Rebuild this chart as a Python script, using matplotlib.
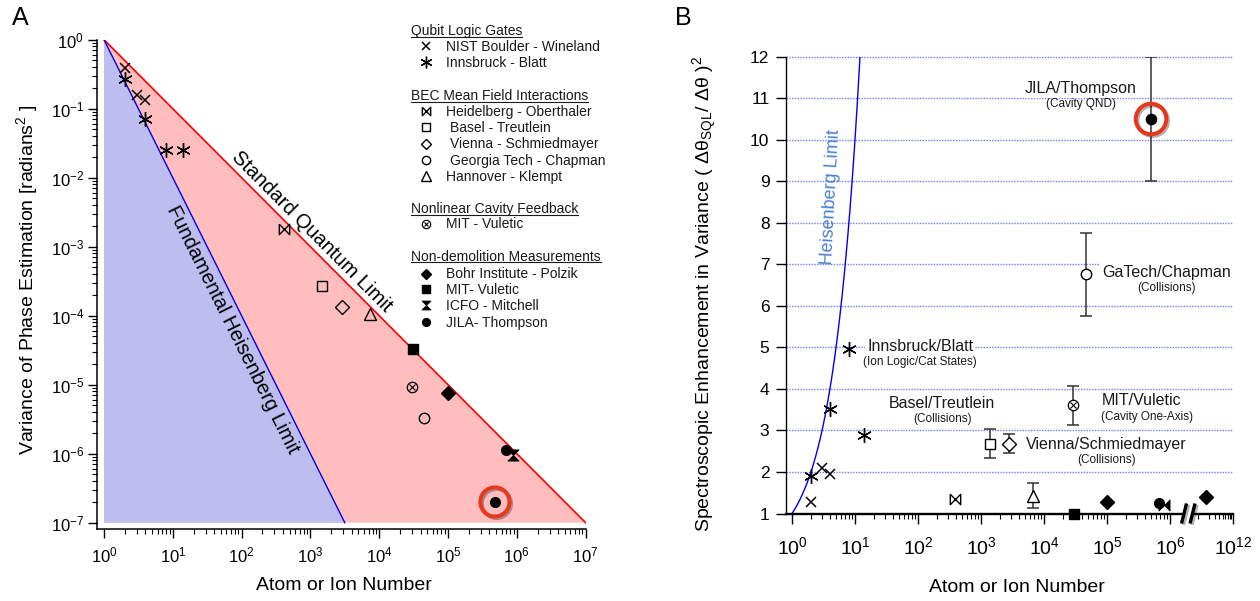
import numpy as np
import matplotlib
matplotlib.use('Agg')
import matplotlib.pyplot as plt
import matplotlib.patheffects as pe
from matplotlib.path import Path
from matplotlib.ticker import FixedLocator, FixedFormatter, NullFormatter

plt.rcParams['font.family'] = ['Liberation Sans', 'DejaVu Sans']
plt.rcParams['mathtext.fontset'] = 'custom'
plt.rcParams['mathtext.rm'] = 'Liberation Sans'
plt.rcParams['mathtext.it'] = 'Liberation Sans:italic'
plt.rcParams['mathtext.bf'] = 'Liberation Sans:bold'

W, H = 1260, 601

# ---- panel A: variance of phase estimation [rad^2] vs atom/ion number
nist_N, nist_var = [2, 3, 4], [0.39, 0.158, 0.134]
innsbruck_N, innsbruck_var = [2, 4, 8, 14], [0.267, 0.071, 0.025, 0.025]
heidelberg_N, heidelberg_var = [413], [1.79e-3]
basel_N, basel_var = [1460], [2.69e-4]
vienna_N, vienna_var = [2850], [1.35e-4]
gatech_N, gatech_var = [4.5e4], [3.3e-6]
hannover_N, hannover_var = [7350], [1.05e-4]
mitfb_N, mitfb_var = [3.0e4], [9.2e-6]
bohr_N, bohr_var = [1e5], [7.7e-6]
mitqnd_N, mitqnd_var = [3.1e4], [3.3e-5]
icfo_N, icfo_var = [8.7e5], [9.5e-7]
jila_N, jila_var = [6.9e5], [1.12e-6]
jilanew_N, jilanew_var = [4.8e5], [2.0e-7]

limit_N = np.array([1.0, 1e7])
var_floor = 1e-7
xticks_A_exp = list(range(0, 8))
yticks_A_exp = list(range(-7, 1))

# ---- panel B: spectroscopic enhancement (dtheta_SQL/dtheta)^2
innsbruckB_N, innsbruckB = [2, 4, 8, 14], [1.9, 3.52, 4.95, 2.88]
nistB_N, nistB = [2, 3, 4], [1.28, 2.1, 1.95]
heidelbergB_N, heidelbergB = [390], [1.36]
baselB_N, baselB, baselB_err = [1390], [2.68], [0.35]
viennaB_N, viennaB, viennaB_err = [2750], [2.68], [0.23]
gatechB_N, gatechB, gatechB_err = [4.6e4], [6.76], [1.0]
hannoverB_N, hannoverB, hannoverB_err = [6800], [1.43], [0.3]
mitfbB_N, mitfbB, mitfbB_err = [2.9e4], [3.61], [0.47]
mitqndB_N, mitqndB = [3.0e4], [1.0]
bohrB_N, bohrB = [1e5, 1.7e11], [1.28, 1.40]
jilaB_N, jilaB = [6.8e5], [1.26]
icfoB_N, icfoB = [8.1e5], [1.21]
jilanewB_N, jilanewB, jilanewB_err = [5e5], [10.5], [1.5]

xticks_B_exp = [0, 1, 2, 3, 4, 5, 6, 12]
yticks_B = list(range(1, 13))

# broken log axis for panel B: plain log10 up to BRK_LO, squeezed gap,
# then the 1e11..1e12 decade compressed by FAR_SCALE
BRK_LO, BRK_HI, FAR_LO, FAR_SCALE = 6.27, 6.45, 11.0, 0.55


def fwd(x):
    x = np.asarray(x, dtype=float)
    with np.errstate(divide='ignore', invalid='ignore'):
        L = np.log10(x)
    gap = BRK_LO + (L - BRK_LO) * (BRK_HI - BRK_LO) / (FAR_LO - BRK_LO)
    far = BRK_HI + (L - FAR_LO) * FAR_SCALE
    return np.where(L <= BRK_LO, L, np.where(L >= FAR_LO, far, gap))


def inv(d):
    d = np.asarray(d, dtype=float)
    gap = BRK_LO + (d - BRK_LO) * (FAR_LO - BRK_LO) / (BRK_HI - BRK_LO)
    far = FAR_LO + (d - BRK_HI) / FAR_SCALE
    L = np.where(d <= BRK_LO, d, np.where(d >= BRK_HI, far, gap))
    return 10.0 ** L


def pow10_labels(exps):
    return [r'$\mathdefault{10^{%d}}$' % e for e in exps]


def decade_minors(exps):
    return [k * 10.0 ** e for e in exps for k in range(2, 10)]


BOWTIE = Path([(-1, 1), (1, -1), (1, 1), (-1, -1), (-1, 1)])
HOURGLASS = Path([(-1, 1), (1, 1), (0, 0), (-1, 1), (-1, -1), (1, -1), (0, 0), (-1, -1)],
                 [Path.MOVETO, Path.LINETO, Path.LINETO, Path.CLOSEPOLY] * 2)
HOURGLASS_SIDE = Path([(1, -1), (1, 1), (0, 0), (1, -1), (-1, -1), (-1, 1), (0, 0), (-1, -1)],
                      [Path.MOVETO, Path.LINETO, Path.LINETO, Path.CLOSEPOLY] * 2)

MARK = {
    'nist': dict(marker='x', ms=7.5, mew=1.1),
    'innsbruck': dict(marker=(6, 2, 0), ms=10.5, mew=1.0),
    'heidelberg': dict(marker=BOWTIE, ms=7.5, mew=1.0),
    'basel': dict(marker='s', ms=7.3, mew=1.0),
    'vienna': dict(marker='D', ms=7.0, mew=1.0),
    'gatech': dict(marker='o', ms=7.5, mew=1.0),
    'hannover': dict(marker='^', ms=8.5, mew=1.0),
    'mitfb': dict(marker='o', ms=7.5, mew=0.9),
    'bohr': dict(marker='D', ms=7.0, mew=1.0),
    'mitqnd': dict(marker='s', ms=7.5, mew=1.0),
    'icfo': dict(marker=HOURGLASS, ms=8.0, mew=0.6),
    'jila': dict(marker='o', ms=7.0, mew=1.0),
}
FILLED = {'bohr', 'mitqnd', 'icfo', 'jila'}


def put(ax, x, y, key, scale=1.0, face='none', marker=None, **kw):
    st = MARK[key]
    mfc = 'k' if key in FILLED else face
    ax.plot(x, y, ls='none', marker=marker if marker is not None else st['marker'],
            ms=st['ms'] * scale, mew=st['mew'], mec='k', mfc=mfc, zorder=4, **kw)
    if key == 'mitfb':
        ax.plot(x, y, ls='none', marker='x', ms=st['ms'] * scale * 0.5, mew=0.8,
                mec='k', zorder=5, **kw)


def px_rect(x0, y0, x1, y1):
    return [x0 / W, 1 - y1 / H, (x1 - x0) / W, (y1 - y0) / H]


ring = dict(marker='o', ls='none', mfc='none', mec='#e8371d', zorder=6,
            path_effects=[pe.SimpleLineShadow(offset=(1.2, -1.2), alpha=0.3), pe.Normal()])

fig = plt.figure(figsize=(W / 100, H / 100), dpi=100)

# ================= panel A =================
ax = fig.add_axes(px_rect(96.7, 39.7, 585.6, 529.3))
ax.set_xscale('log')
ax.set_yscale('log')
ax.set_xlim(10 ** -0.106, 1e7)
ax.set_ylim(10 ** -7.096, 1)

sql_var = 1 / limit_N
n_heis = 1 / np.sqrt(var_floor)
ax.fill([limit_N[0], limit_N[1], limit_N[0]], [sql_var[0], sql_var[1], var_floor],
        color='#ffbdbd', lw=0, zorder=1)
ax.fill([limit_N[0], n_heis, limit_N[0]], [1 / limit_N[0] ** 2, var_floor, var_floor],
        color='#bdbdf0', lw=0, zorder=1.1)
ax.plot(limit_N, sql_var, color='#ff0000', lw=1.2, zorder=2)
ax.plot([limit_N[0], n_heis], [1 / limit_N[0] ** 2, 1 / n_heis ** 2], color='#0000ee', lw=1.0, zorder=2)

put(ax, nist_N, nist_var, 'nist')
put(ax, innsbruck_N, innsbruck_var, 'innsbruck')
put(ax, heidelberg_N, heidelberg_var, 'heidelberg')
put(ax, basel_N, basel_var, 'basel')
put(ax, vienna_N, vienna_var, 'vienna')
put(ax, gatech_N, gatech_var, 'gatech')
put(ax, hannover_N, hannover_var, 'hannover')
put(ax, mitfb_N, mitfb_var, 'mitfb')
put(ax, bohr_N, bohr_var, 'bohr')
put(ax, mitqnd_N, mitqnd_var, 'mitqnd')
put(ax, jila_N, jila_var, 'jila')
put(ax, icfo_N, icfo_var, 'icfo')
put(ax, jilanew_N, jilanew_var, 'jila')
ax.plot(jilanew_N, jilanew_var, ms=21, mew=2.8, **ring)

ax.text(1045, 1.65e-3, 'Standard Quantum Limit', rotation=-45.1, rotation_mode='anchor',
        ha='center', va='center', fontsize=14.5)
ax.text(75.5, 6.2e-5, 'Fundamental Heisenberg Limit', rotation=-63.5, rotation_mode='anchor',
        ha='center', va='center', fontsize=14.5)

ax.xaxis.set_major_locator(FixedLocator([10.0 ** e for e in xticks_A_exp]))
ax.xaxis.set_major_formatter(FixedFormatter(pow10_labels(xticks_A_exp)))
ax.xaxis.set_minor_locator(FixedLocator(decade_minors(xticks_A_exp[:-1])))
ax.xaxis.set_minor_formatter(NullFormatter())
ax.yaxis.set_major_locator(FixedLocator([10.0 ** e for e in yticks_A_exp]))
ax.yaxis.set_major_formatter(FixedFormatter(pow10_labels(yticks_A_exp)))
ax.yaxis.set_minor_locator(FixedLocator(decade_minors(yticks_A_exp[:-1])))
ax.yaxis.set_minor_formatter(NullFormatter())

for s in ['top', 'right']:
    ax.spines[s].set_visible(False)
for s in ['left', 'bottom']:
    ax.spines[s].set_linewidth(1.1)
ax.tick_params(which='major', direction='out', length=6.5, width=1, labelsize=12)
ax.tick_params(which='minor', direction='out', length=3.6, width=0.8)
ax.tick_params(axis='y', pad=2.5)
ax.tick_params(axis='x', pad=5)

# legend drawn on a transparent overlay in pixel units
axL = fig.add_axes([0, 0, 1, 1], zorder=5)
axL.set_xlim(0, W)
axL.set_ylim(H, 0)
axL.set_xticks([])
axL.set_yticks([])
axL.axis('off')

headers = [('Qubit Logic Gates', 35.0), ('BEC Mean Field Interactions', 100.0),
           ('Nonlinear Cavity Feedback', 213.3), ('Non-demolition Measurements', 260.7)]
entries = [('NIST Boulder - Wineland', 'nist', 50.7, 446),
           ('Innsbruck - Blatt', 'innsbruck', 66.7, 446),
           ('Heidelberg - Oberthaler', 'heidelberg', 115.7, 446),
           ('Basel - Treutlein', 'basel', 131.7, 450),
           ('Vienna - Schmiedmayer', 'vienna', 148.3, 450),
           ('Georgia Tech - Chapman', 'gatech', 165.0, 450),
           ('Hannover - Klempt', 'hannover', 180.7, 446),
           ('MIT - Vuletic', 'mitfb', 228.3, 446),
           ('Bohr Institute - Polzik', 'bohr', 278.3, 446),
           ('MIT- Vuletic', 'mitqnd', 294.0, 446),
           ('ICFO - Mitchell', 'icfo', 310.0, 446),
           ('JILA- Thompson', 'jila', 326.7, 446)]

renderer = fig.canvas.get_renderer()
to_px = axL.transData.inverted()
for txt, yb in headers:
    t = axL.text(411, yb, txt, fontsize=10, va='baseline', ha='left', color='#1a1a1a')
    bb = t.get_window_extent(renderer=renderer)
    x0 = to_px.transform((bb.x0, bb.y0))[0]
    x1 = to_px.transform((bb.x1, bb.y0))[0]
    axL.plot([x0, x1], [yb + 1.5, yb + 1.5], color='#1a1a1a', lw=0.8)
for txt, key, yb, tx in entries:
    put(axL, [425.7], [yb - 4.8], key, scale=0.8, clip_on=False)
    axL.text(tx, yb, txt, fontsize=10, va='baseline', ha='left', color='#1a1a1a')

# ================= panel B =================
axB = fig.add_axes(px_rect(785.5, 56.7, 1233.0, 513.5))
axB.set_xscale('function', functions=(fwd, inv))
x_left = 10 ** (-6.5 / 63)
axB.set_xlim(x_left, 1e12)
axB.set_ylim(1, 12)

axB.hlines(yticks_B[1:], x_left, 1e12, colors='#7878ff', linestyles=(0, (1, 1)),
           lw=1.0, zorder=0, clip_on=False)

heis_N = np.linspace(1, 12, 200)
axB.plot(heis_N, heis_N, color='#0000ee', lw=1.0, zorder=2)
axB.text(4.16, 8.62, 'Heisenberg Limit', rotation=87, ha='center', va='center',
         fontsize=13, color='#4a80d0')

eb = dict(fmt='none', ecolor='#333333', elinewidth=1.1, capsize=4, capthick=1.1, zorder=3)
axB.errorbar(baselB_N, baselB, yerr=baselB_err, **eb)
axB.errorbar(viennaB_N, viennaB, yerr=viennaB_err, **eb)
axB.errorbar(gatechB_N, gatechB, yerr=gatechB_err, **eb)
axB.errorbar(hannoverB_N, hannoverB, yerr=hannoverB_err, **eb)
axB.errorbar(mitfbB_N, mitfbB, yerr=mitfbB_err, **eb)
axB.errorbar(jilanewB_N, jilanewB, yerr=jilanewB_err, **eb)

put(axB, innsbruckB_N, innsbruckB, 'innsbruck', clip_on=False)
put(axB, nistB_N, nistB, 'nist', clip_on=False)
put(axB, heidelbergB_N, heidelbergB, 'heidelberg', clip_on=False)
put(axB, baselB_N, baselB, 'basel', face='white', clip_on=False)
put(axB, viennaB_N, viennaB, 'vienna', face='white', clip_on=False)
put(axB, gatechB_N, gatechB, 'gatech', face='white', clip_on=False)
put(axB, hannoverB_N, hannoverB, 'hannover', face='white', clip_on=False)
put(axB, mitfbB_N, mitfbB, 'mitfb', face='white', clip_on=False)
put(axB, mitqndB_N, mitqndB, 'mitqnd', clip_on=False)
put(axB, bohrB_N, bohrB, 'bohr', scale=1.05, clip_on=False)
put(axB, jilaB_N, jilaB, 'jila', clip_on=False)
put(axB, icfoB_N, icfoB, 'icfo', marker=HOURGLASS_SIDE, clip_on=False)
put(axB, jilanewB_N, jilanewB, 'jila', scale=1.05)
axB.plot(jilanewB_N, jilanewB, ms=22, mew=2.9, **ring)

white_box = dict(fc='white', ec='none', pad=1.5)
group_labels = [('JILA/Thompson', '(Cavity QND)', 3.87e4, 11.24, 3.87e4, 10.86, True),
                ('GaTech/Chapman', '(Collisions)', 8.9e5, 6.81, 8.9e5, 6.44, True),
                ('Innsbruck/Blatt', '(Ion Logic/Cat States)', 108, 5.03, 108, 4.64, True),
                ('Basel/Treutlein', '(Collisions)', 243, 3.64, 243, 3.27, False),
                ('MIT/Vuletic', '(Cavity One-Axis)', 3.6e5, 3.72, 4.3e5, 3.32, False),
                ('Vienna/Schmiedmayer', '(Collisions)', 9.9e4, 2.67, 9.9e4, 2.29, False)]
for main, sub, mx, my, sx, sy, boxed in group_labels:
    axB.text(mx, my, main, ha='center', va='center', fontsize=11.5, color='#1a1a1a',
             bbox=white_box if boxed else None, zorder=3)
    axB.text(sx, sy, sub, ha='center', va='center', fontsize=8.5, color='#1a1a1a', zorder=3)

axB.xaxis.set_major_locator(FixedLocator([10.0 ** e for e in xticks_B_exp]))
axB.xaxis.set_major_formatter(FixedFormatter(pow10_labels(xticks_B_exp)))
minor_B = decade_minors(range(0, 6)) + [k * 1e11 for k in range(1, 10)]
axB.xaxis.set_minor_locator(FixedLocator(minor_B))
axB.xaxis.set_minor_formatter(NullFormatter())
axB.set_yticks(yticks_B)
axB.set_yticklabels([str(v) for v in yticks_B])

for s in ['top', 'right']:
    axB.spines[s].set_visible(False)
axB.spines['left'].set_linewidth(1.0)
axB.spines['bottom'].set_linewidth(1.7)
axB.tick_params(which='major', direction='out', length=7.2, width=1)
axB.tick_params(which='minor', direction='out', length=3.6, width=0.8)
axB.tick_params(axis='x', labelsize=14, pad=9)
axB.tick_params(axis='y', labelsize=12.5, pad=4.4)

# axis break marks on the bottom spine
bx, hw, hh = [0.8905, 0.9095], 0.0056, 0.0219
axB.fill([bx[0] - hw, bx[0] + hw, bx[1] + hw, bx[1] - hw], [-hh, hh, hh, -hh],
         transform=axB.transAxes, color='white', zorder=5, clip_on=False)
for b in bx:
    axB.plot([b - hw, b + hw], [-hh, hh], transform=axB.transAxes, color='k', lw=2.4,
             zorder=6, clip_on=False, solid_capstyle='butt',
             path_effects=[pe.SimpleLineShadow(offset=(1.5, -1.0), alpha=0.3), pe.Normal()])

# labels
fig.text(11.7 / W, 1 - 25 / H, 'A', fontsize=18, va='baseline', ha='left')
fig.text(675 / W, 1 - 25 / H, 'B', fontsize=18, va='baseline', ha='left')
fig.text(343.8 / W, 1 - 585 / H, 'Atom or Ion Number', fontsize=14, ha='center', va='center')
fig.text(1017 / W, 1 - 587 / H, 'Atom or Ion Number', fontsize=14, ha='center', va='center')
fig.text(27 / W, 1 - 280 / H, 'Variance of Phase Estimation [radians$^2$ ]', fontsize=14,
         rotation=90, ha='center', va='center')
fig.text(705 / W, 1 - 294 / H,
         'Spectroscopic Enhancement in Variance ( Δθ$_{\\mathrm{SQL}}$/ Δθ )$^2$',
         fontsize=14, rotation=90, ha='center', va='center')

fig.savefig('out.png', dpi=100)
